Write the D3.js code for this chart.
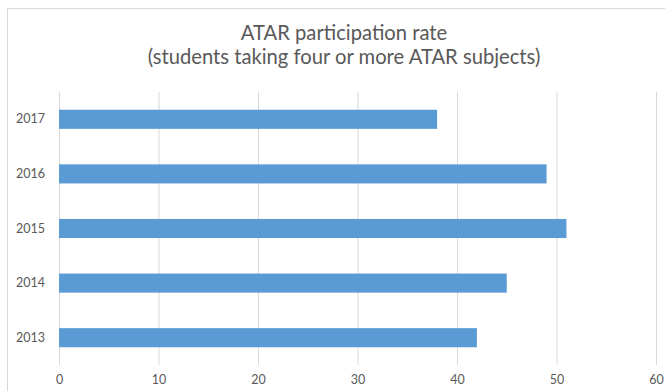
<!DOCTYPE html>
<html>
<head>
<meta charset="utf-8">
<script src="https://cdn.jsdelivr.net/npm/d3@7"></script>
<style>
  html, body { margin: 0; padding: 0; background: #fff; }
  svg { display: block; }
</style>
</head>
<body>
<svg id="chart" width="665" height="391"></svg>
<script>
// ATAR participation rate by year (percent of students)
const years = ["2013", "2014", "2015", "2016", "2017"];
const rates = [42, 45, 51, 49, 38];
const xTicks = [0, 10, 20, 30, 40, 50, 60];
const titleLines = ["ATAR participation rate", "(students taking four or more ATAR subjects)"];

const W = 665, H = 391;
const plot = { left: 59, right: 656, top: 92, bottom: 365 };
const font = "Lato, 'Open Sans', sans-serif";
const textColor = "#595959";

const svg = d3.select("#chart");

// chart frame
svg.append("rect")
  .attr("x", 7.5).attr("y", 8.5)
  .attr("width", W).attr("height", H)
  .attr("fill", "#fff")
  .attr("stroke", "#d9d9d9").attr("stroke-width", 1);

const x = d3.scaleLinear().domain([0, 60]).range([plot.left, plot.right]);
// 2017 on top, 2013 at the bottom
const y = d3.scaleBand().domain(years.slice().reverse())
  .range([plot.top, plot.bottom]).paddingInner(0.65).paddingOuter(0.325);

// vertical gridlines
const xAxis = d3.axisBottom(x).tickValues(xTicks).tickSize(-(plot.bottom - plot.top)).tickPadding(10);
const gx = svg.append("g").attr("transform", `translate(0,${plot.bottom})`).call(xAxis);
gx.select(".domain").remove();
gx.selectAll(".tick line").attr("stroke", "#d9d9d9").attr("stroke-width", 1);
gx.selectAll(".tick text")
  .attr("fill", textColor).attr("font-family", font).attr("font-size", 12.5);

// bars
const data = years.map((yr, i) => ({ year: yr, value: rates[i] }));
svg.append("g").selectAll("rect").data(data).join("rect")
  .attr("x", x(0))
  .attr("y", d => y(d.year))
  .attr("width", d => x(d.value) - x(0))
  .attr("height", y.bandwidth())
  .attr("fill", "#5b9bd5");

// category labels
const yAxis = d3.axisLeft(y).tickSize(0).tickPadding(14);
const gy = svg.append("g").attr("transform", `translate(${plot.left},0)`).call(yAxis);
gy.select(".domain").remove();
gy.selectAll(".tick text")
  .attr("fill", textColor).attr("font-family", font).attr("font-size", 12.5);

// title
const title = svg.append("text")
  .attr("x", 344).attr("text-anchor", "middle")
  .attr("fill", textColor).attr("font-family", font).attr("font-size", 20.2);
title.selectAll("tspan").data(titleLines).join("tspan")
  .attr("x", 344)
  .attr("y", (d, i) => 40 + i * 24)
  .text(d => d);
</script>
</body>
</html>
